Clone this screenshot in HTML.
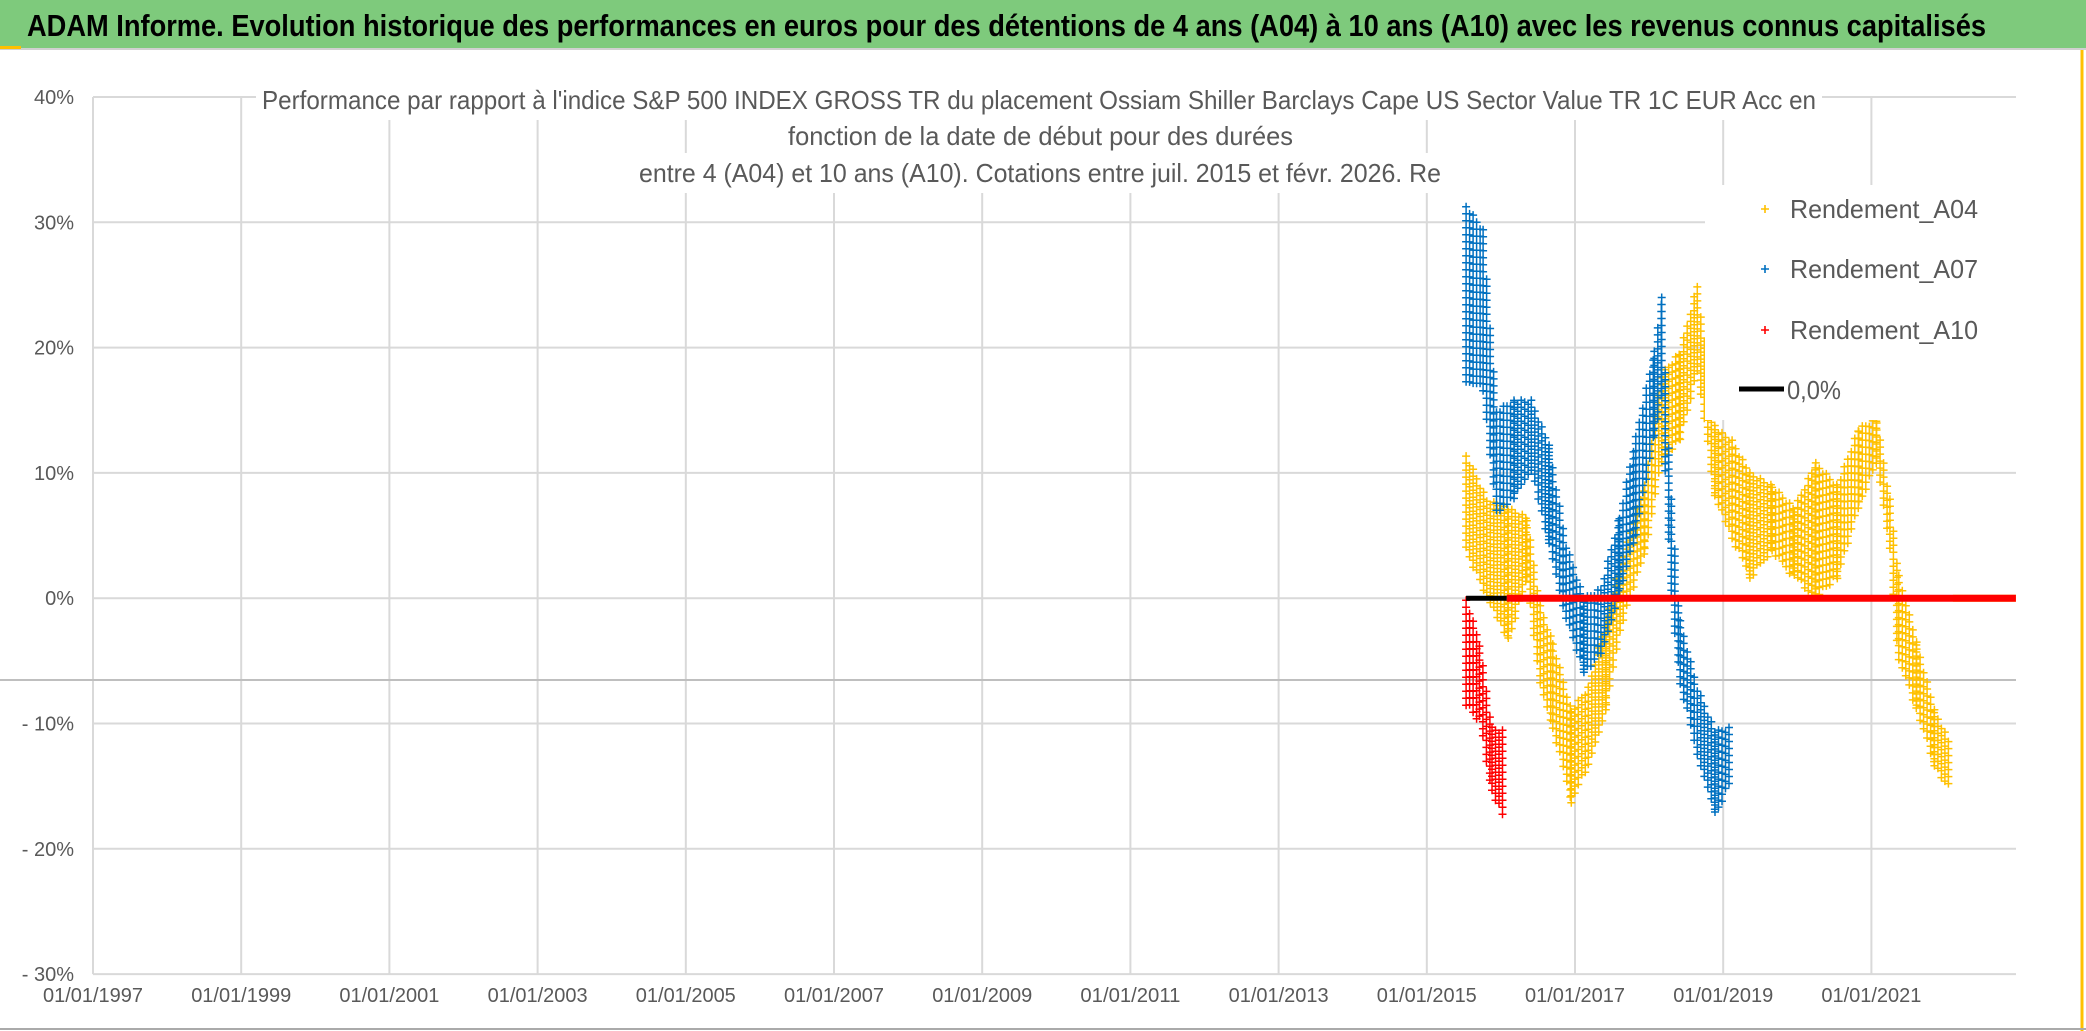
<!DOCTYPE html>
<html><head><meta charset="utf-8"><style>
html,body{margin:0;padding:0;background:#fff}
svg{display:block;font-family:"Liberation Sans",sans-serif}
</style></head><body>
<svg id="chart" width="2086" height="1031" viewBox="0 0 2086 1031">
<rect x="0" y="0" width="2086" height="1031" fill="#fff"/>
<rect x="0" y="0" width="2086" height="48" fill="#7ECA7C"/>
<line x1="0" y1="49" x2="2086" y2="49" stroke="#d0d0d0" stroke-width="2"/>
<rect x="0" y="46" width="21" height="3" fill="#FFC000"/>
<line x1="2082" y1="50" x2="2082" y2="1031" stroke="#FFC000" stroke-width="3"/>
<line x1="0" y1="1029" x2="2086" y2="1029" stroke="#aaa" stroke-width="2"/>
<text x="27" y="36" font-size="31" font-weight="bold" fill="#000" textLength="1959" lengthAdjust="spacingAndGlyphs">ADAM Informe. Evolution historique des performances en euros pour des détentions de 4 ans (A04) à 10 ans (A10) avec les revenus connus capitalisés</text>
<g id="grid"></g>
<g id="axes"></g>
<g id="marks"></g>
<g id="overlay"></g>
</svg>
<script>
const yTicks = [40,30,20,10,0,-10,-20,-30];
const yTickLabels = ["40%","30%","20%","10%","0%","- 10%","- 20%","- 30%"];
const xTickYears = [1997,1999,2001,2003,2005,2007,2009,2011,2013,2015,2017,2019,2021];
const xTickLabels = ["01/01/1997","01/01/1999","01/01/2001","01/01/2003","01/01/2005","01/01/2007","01/01/2009","01/01/2011","01/01/2013","01/01/2015","01/01/2017","01/01/2019","01/01/2021"];
const a04Dates = [2015.53,2015.81,2016.1,2016.35,2016.53,2016.7,2016.95,2017.18,2017.42,2017.65,2017.94,2018.17,2018.42,2018.65,2018.89,2019.12,2019.36,2019.66,2019.96,2020.25,2020.54,2020.83,2021.07,2021.25,2021.37,2021.61,2021.85,2022.08];
const a04Hi = [11.5,7.9,7.2,6.5,-0.6,-3.5,-8.9,-7.1,-1.8,3.6,9,17.9,19.7,25,13.6,12.6,10,9,7.2,10.8,9,13.6,14.3,7.9,1.8,-3.5,-8.9,-11.8];
const a04Lo = [3.6,0,-3.5,1.5,-7.1,-10.6,-16.4,-13.5,-8.9,-1.8,3.6,10.8,12.6,18,7.9,4.7,1.5,3.6,1.5,0,1.5,7.2,10.8,3.6,-5.3,-8.9,-13.5,-15.7];
const a07Dates = [2015.53,2015.76,2015.94,2016.18,2016.41,2016.65,2016.88,2017.12,2017.35,2017.6,2017.82,2018.07,2018.17,2018.3,2018.42,2018.65,2018.89,2019.09];
const a07Hi = [31.4,29.4,15,15.8,15.8,12.2,4.3,0,0.8,6.5,12.9,19.7,24,7.9,-1.8,-7.1,-10.6,-10.3];
const a07Lo = [17.2,16.5,6.5,7.9,10,4.3,-1.8,-6,-4.6,0,5,12.9,15.8,0,-7.1,-12.5,-17.4,-15];
const a10Dates = [2015.53,2015.71,2015.88,2016.06];
const a10Hi = [0,-3.5,-10.3,-10.6];
const a10Lo = [-8.6,-9.9,-15.7,-17.8];
const zeroLineStart = [2015.53];
const flatA10 = [2016.08,2022.95];
const flatA04 = [2022.1,2022.95];

const NS="http://www.w3.org/2000/svg";
const X0=93, X1=2016, Y40=97, YSTEP=125.3;
const xScale = yr => X0 + (yr-1997)*74.1;
const yScale = v => Y40 + (40-v)/10*YSTEP;
function mk(tag, attrs, parent){const e=document.createElementNS(NS,tag);for(const k in attrs)e.setAttribute(k,attrs[k]);parent.appendChild(e);return e;}
const grid=document.getElementById('grid'), axes=document.getElementById('axes'), marks=document.getElementById('marks'), overlay=document.getElementById('overlay');

yTicks.forEach((t,i)=>{
  const l=mk('line',{x1:X0,x2:X1,y1:yScale(t),y2:yScale(t),stroke:'#d9d9d9','stroke-width':2},grid);
  
  
  const tx=mk('text',{x:74,y:yScale(t)+7,'text-anchor':'end','font-size':20,fill:'#595959'},axes);
  tx.textContent=yTickLabels[i];
  
  
});
xTickYears.forEach((yr,i)=>{
  const l=mk('line',{x1:xScale(yr),x2:xScale(yr),y1:Y40,y2:yScale(-30),stroke:'#d9d9d9','stroke-width':2},grid);
  
  
  const tx=mk('text',{x:xScale(yr),y:1002,'text-anchor':'middle','font-size':20,fill:'#595959',textLength:100,lengthAdjust:'spacingAndGlyphs'},axes);
  tx.textContent=xTickLabels[i];
  
  
});
const xl=mk('line',{x1:0,x2:X1,y1:680,y2:680,stroke:'#bfbfbf','stroke-width':2},grid);



function band(dates,hi,lo,color,name){
  let d='';let k=0;
  for(let i=0;i<dates.length-1;i++){
    const xa=xScale(dates[i]), xb=xScale(dates[i+1]);
    for(let x=xa;x<xb;x+=3.5){
      const f=(x-xa)/(xb-xa);
      const yh=yScale(hi[i]+(hi[i+1]-hi[i])*f), yl=yScale(lo[i]+(lo[i+1]-lo[i])*f);
      k++;
      for(let y=yh+(k%3)*2;y<=yl;y+=7){d+=`M${(x-4).toFixed(1)} ${y.toFixed(1)}h8M${x.toFixed(1)} ${(y-4).toFixed(1)}v8`;}
    }
  }
  const p=mk('path',{d:d,stroke:color,'stroke-width':1.5,fill:'none'},marks);
  
  
}
band(a04Dates,a04Hi,a04Lo,'#FFC000','series-rendement-a04');
band(a07Dates,a07Hi,a07Lo,'#0070C0','series-rendement-a07');
band(a10Dates,a10Hi,a10Lo,'#FF0000','series-rendement-a10');
const za=mk('line',{x1:xScale(flatA04[0]),x2:xScale(flatA04[1]),y1:yScale(0),y2:yScale(0),stroke:'#FFC000','stroke-width':7},marks);


const zl=mk('line',{x1:xScale(zeroLineStart[0]),x2:xScale(flatA10[0]),y1:yScale(0),y2:yScale(0),stroke:'#000','stroke-width':5},marks);


const zr=mk('line',{x1:xScale(flatA10[0]),x2:xScale(flatA10[1]),y1:yScale(0),y2:yScale(0),stroke:'#FF0000','stroke-width':7},marks);



const titles=[[262,1816,100,"Performance par rapport à l'indice S&P 500 INDEX GROSS TR  du placement Ossiam Shiller Barclays Cape US Sector Value TR 1C EUR Acc en"],[788,1293,136,"fonction de la date de début pour des durées"],[639,1441,173,"entre 4 (A04) et 10 ans (A10). Cotations entre juil. 2015 et févr. 2026. Re"]];
titles.forEach(t=>{
  mk('rect',{x:t[0]-6,y:t[2]-20,width:t[1]-t[0]+12,height:40,fill:'#fff'},overlay);
  const tx=mk('text',{x:t[0],y:t[2]+9,'font-size':26,fill:'#595959',textLength:t[1]-t[0],lengthAdjust:'spacingAndGlyphs'},overlay);
  tx.textContent=t[3];
  
  
});
mk('rect',{x:1705,y:185,width:311,height:235,fill:'#fff'},overlay);
const leg=[['#FFC000','Rendement_A04',209],['#0070C0','Rendement_A07',269],['#FF0000','Rendement_A10',330]];
leg.forEach(e=>{
  const g=mk('g',{},overlay);
  
  
  mk('path',{d:`M${1761} ${e[2]}h8M${1765} ${e[2]-4}v8`,stroke:e[0],'stroke-width':1.6},g);
  const tx=mk('text',{x:1790,y:e[2]+9,'font-size':26,fill:'#595959',textLength:188,lengthAdjust:'spacingAndGlyphs'},g);
  tx.textContent=e[1];
});
const g0=mk('g',{},overlay);


mk('line',{x1:1739,x2:1784,y1:389,y2:389,stroke:'#000','stroke-width':5},g0);
const t0=mk('text',{x:1787,y:399,'font-size':26,fill:'#595959',textLength:54,lengthAdjust:'spacingAndGlyphs'},g0);
t0.textContent='0,0%';
</script>
</body></html>
